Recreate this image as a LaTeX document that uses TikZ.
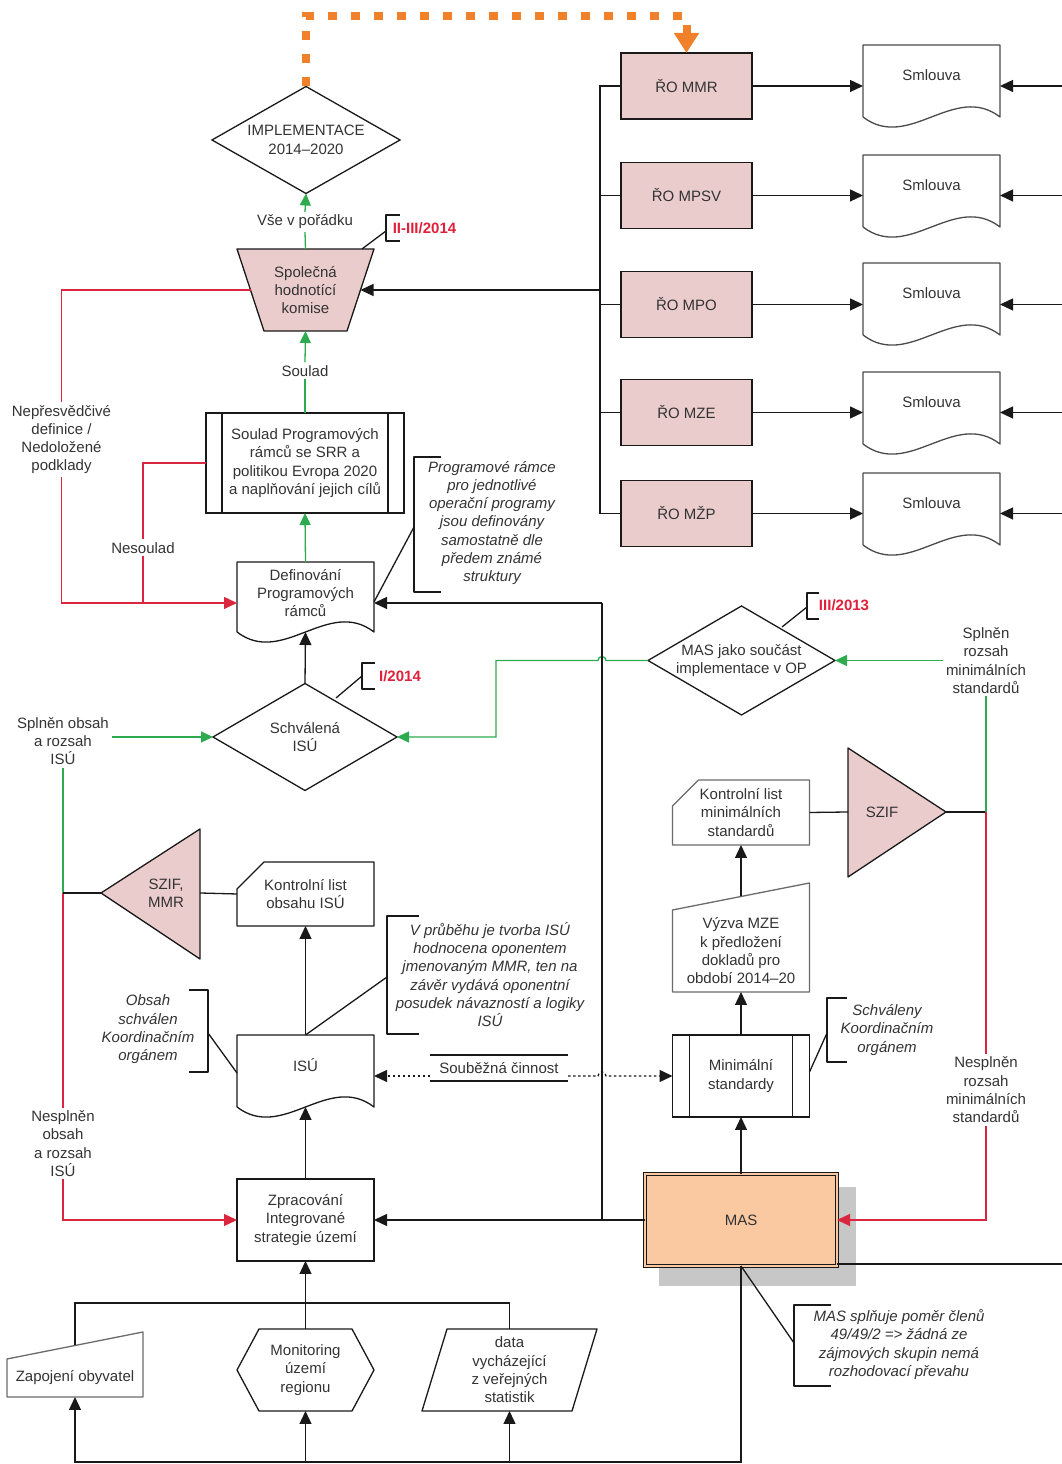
\documentclass[tikz,border=0pt]{standalone}
\usepackage{fontspec}
\setmainfont{Liberation Sans}
\usetikzlibrary{arrows.meta,shapes.geometric}

\newcommand{\docout}[3][]{\draw[shp,#1] ([yshift=-#3]#2.south west) -- (#2.north west) -- (#2.north east) -- ([yshift=-#3]#2.south east) .. controls ([xshift=-45.7pt,yshift=35pt-#3]#2.south east) and ([xshift=45.7pt,yshift=-35pt-#3]#2.south west) .. ([yshift=-#3]#2.south west);}
\newcommand{\cardout}[3][]{\draw[shp,#1] ([xshift=#3]#2.north west) -- (#2.north east) -- (#2.south east) -- (#2.south west) -- ([yshift=-#3]#2.north west) -- cycle;}
\newcommand{\manout}[3][]{\draw[shp,#1] (#2.south west) -- (#2.north west) -- ([yshift=#3]#2.north east) -- (#2.south east) -- cycle;}
\newcommand{\hexout}[2]{\draw[shp] (#1.west) -- ([xshift=#2]#1.north west) -- ([xshift=-#2]#1.north east) -- (#1.east) -- ([xshift=-#2]#1.south east) -- ([xshift=#2]#1.south west) -- cycle;}
\newcommand{\parout}[2]{\draw[shp] ([xshift=#2]#1.north west) -- (#1.north east) -- ([xshift=-#2]#1.south east) -- (#1.south west) -- cycle;}
\newcommand{\procout}[2]{\draw[shp] ([xshift=#2]#1.north west) -- ([xshift=#2]#1.south west) ([xshift=-#2]#1.north east) -- ([xshift=-#2]#1.south east);}

\begin{document}
\begin{tikzpicture}[x=1pt,y=1pt,
  txt/.style={font=\fontsize{15}{18.3}\selectfont,align=center,inner sep=0pt,outer sep=0pt,text=textColor},
  lbl/.style={txt,inner sep=3pt},
  note/.style={txt,font=\fontsize{15}{18.3}\selectfont\itshape},
  datum/.style={txt,font=\fontsize{15}{18.3}\selectfont\bfseries,text=dateColor},
  holder/.style={txt,minimum width=137pt},
  proc/.style={txt,draw=lineColor,line width=1.3pt},
  choice/.style={txt,shape=diamond,draw=lineColor,line width=1.3pt},
  rozbox/.style={txt,draw=lineColor,line width=1.3pt,fill=roFill,minimum width=131pt,minimum height=66pt},
  shp/.style={draw=lineColor,line width=1.3pt,line join=round},
  con/.style={draw=lineColor,line width=1.3pt},
  arr/.style={con,-{Triangle[length=13pt,width=12pt]}},
  okline/.style={draw=okColor,line width=1.3pt},
  okarr/.style={okline,-{Triangle[length=12pt,width=11pt]}},
  noline/.style={draw=noColor,line width=1.3pt},
  noarr/.style={noline,-{Triangle[length=13pt,width=12pt]}},
  dotline/.style={con,dash pattern=on 2.5pt off 2.5pt},
  planarr/.style={draw=planColor,line width=8pt,dash pattern=on 9pt off 14pt,-{Triangle[length=20pt,width=24pt]}}]
\definecolor[named]{textColor}{rgb}{0.20,0.20,0.20}
\definecolor[named]{lineColor}{rgb}{0.10,0.10,0.10}
\definecolor[named]{greyLine}{rgb}{0.42,0.42,0.42}
\definecolor[named]{roFill}{rgb}{0.92,0.80,0.80}
\definecolor[named]{masFill}{rgb}{0.98,0.79,0.63}
\definecolor[named]{shadowColor}{rgb}{0.78,0.78,0.78}
\definecolor[named]{okColor}{rgb}{0.18,0.67,0.31}
\definecolor[named]{noColor}{rgb}{0.86,0.15,0.25}
\definecolor[named]{dateColor}{rgb}{0.88,0.13,0.23}
\definecolor[named]{planColor}{rgb}{0.94,0.50,0.16}
\path[use as bounding box,fill=white] (0,0) rectangle (1062,1464);

\path[fill=shadowColor] (659,178) rectangle (856,277);
\draw[shp,fill=roFill] (237,1215) -- (374,1215) -- (347,1133) -- (264,1133) -- cycle;
\draw[shp,fill=roFill] (101,571) -- (200,635) -- (200,505) -- cycle;
\draw[shp,fill=roFill] (848,716) -- (946,652) -- (848,587) -- cycle;

\coordinate (robus) at (600,0);
\coordinate (bus2) at (602,0);
\coordinate (rim) at (1062,0);
\coordinate (rjoin) at (61.5,861);
\coordinate (ptop) at (0,1448);
\coordinate (bot) at (0,2);
\coordinate (inbus) at (0,161);
\coordinate (szif1tip) at (101,571);
\coordinate (szif1base) at (200,571);
\coordinate (szif2base) at (848,652);
\coordinate (szif2tip) at (946,652);

\node[choice,minimum width=188pt,minimum height=107pt,aspect=1.757] (impl) at (306,1324) {IMPLEMENTACE\\2014–2020};
\node[txt,minimum width=110pt,minimum height=82pt] (komise) at (305.5,1174) {Společná\\hodnotící\\komise};
\node[lbl] (vse) at (305,1242) {Vše v pořádku};
\node[datum] (d2014b) at (424.5,1236) {II-III/2014};
\node[lbl] (soulbl) at (305,1093) {Soulad};
\node[proc,minimum width=198pt,minimum height=100pt] (soulad) at (305,1001) {Soulad Programových\\rámců se SRR a\\politikou Evropa 2020\\a naplňování jejich cílů};
\node[lbl] (nep) at (61.5,1024.5) {Nepřesvědčivé\\definice /\\Nedoložené\\podklady};
\node[lbl] (nes) at (143,916) {Nesoulad};
\node[holder,minimum height=62pt] (defin) at (305.5,871) {Definování\\Programových\\rámců};
\node[note] (pra) at (492,941) {Programové rámce\\pro jednotlivé\\operační programy\\jsou definovány\\samostatně dle\\předem známé\\struktury};
\node[choice,minimum width=184pt,minimum height=107pt,aspect=1.72] (schv) at (305,727) {Schválená\\ISÚ};
\node[datum] (d2014a) at (400,788) {I/2014};
\node[lbl] (splisu) at (63,723) {Splněn obsah\\a rozsah\\ISÚ};
\node[txt] (szif1) at (166,571) {SZIF,\\MMR};
\node[holder,minimum height=64pt] (klist1) at (305.5,570) {Kontrolní list\\obsahu ISÚ};
\node[note] (prub) at (490,489.5) {V průběhu je tvorba ISÚ\\hodnocena oponentem\\jmenovaným MMR, ten na\\závěr vydává oponentní\\posudek návazností a logiky\\ISÚ};
\node[note] (obs) at (148,434.5) {Obsah\\schválen\\Koordinačním\\orgánem};
\node[holder,minimum height=60pt] (isu) at (305.5,399) {ISÚ};
\node[txt,minimum width=138pt,minimum height=26pt] (soub) at (499,396) {Souběžná činnost};
\node[lbl] (nesisu) at (63,320.5) {Nesplněn\\obsah\\a rozsah\\ISÚ};
\node[proc,minimum width=137pt,minimum height=82pt] (zprac) at (305.5,244) {Zpracování\\Integrované\\strategie území};

\node[rozbox] (ro1) at (686.5,1378) {ŘO MMR};
\node[rozbox] (ro2) at (686.5,1268.5) {ŘO MPSV};
\node[rozbox] (ro3) at (686.5,1159.5) {ŘO MPO};
\node[rozbox] (ro4) at (686.5,1051.5) {ŘO MZE};
\node[rozbox] (ro5) at (686.5,950.5) {ŘO MŽP};
\node[holder,minimum height=60pt] (sml1) at (931.5,1389) {Smlouva};
\node[holder,minimum height=60pt] (sml2) at (931.5,1279) {Smlouva};
\node[holder,minimum height=60pt] (sml3) at (931.5,1171) {Smlouva};
\node[holder,minimum height=60pt] (sml4) at (931.5,1062) {Smlouva};
\node[holder,minimum height=60pt] (sml5) at (931.5,961) {Smlouva};

\node[choice,minimum width=187pt,minimum height=109pt,aspect=1.716] (masop) at (741.5,803.5) {MAS jako součást\\implementace v OP};
\node[datum] (d2013) at (844,859) {III/2013};
\node[lbl] (splrs) at (986,803.5) {Splněn\\rozsah\\minimálních\\standardů};
\node[holder,minimum height=65pt] (klist2) at (741,651.5) {Kontrolní list\\minimálních\\standardů};
\node[txt] (szif2) at (882,652) {SZIF};
\node[holder,minimum height=82pt] (vyz) at (741,513) {Výzva MZE\\k předložení\\dokladů pro\\období 2014–20};
\node[proc,minimum width=137pt,minimum height=82pt] (minstd) at (741,388) {Minimální\\standardy};
\node[note] (schvk) at (887,434) {Schváleny\\Koordinačním\\orgánem};
\node[lbl] (nesrs) at (986,374) {Nesplněn\\rozsah\\minimálních\\standardů};
\node[txt,draw=lineColor,line width=1.2pt,double=masFill,double distance=2pt,fill=masFill,minimum width=192pt,minimum height=92pt] (mas) at (741,244) {MAS};
\node[note] (masann) at (899,119.5) {MAS splňuje poměr členů\\49/49/2 => žádná ze\\zájmových skupin nemá\\rozhodovací převahu};

\node[txt,minimum width=136pt,minimum height=38pt] (zap) at (75,86) {Zapojení obyvatel};
\node[holder,minimum height=82pt] (mon) at (305.5,94) {Monitoring\\území\\regionu};
\node[txt,minimum width=175pt,minimum height=82pt] (dat) at (509.5,94) {data\\vycházející\\z veřejných\\statistik};

\procout{soulad}{16pt}
\procout{minstd}{17pt}
\docout{defin}{8pt}
\docout{isu}{12pt}
\docout[draw=greyLine!60!lineColor]{sml1}{12pt}
\docout[draw=greyLine!60!lineColor]{sml2}{12pt}
\docout[draw=greyLine!60!lineColor]{sml3}{12pt}
\docout[draw=greyLine!60!lineColor]{sml4}{12pt}
\docout[draw=greyLine!60!lineColor]{sml5}{12pt}
\cardout{klist1}{27pt}
\cardout[draw=greyLine]{klist2}{26pt}
\manout[draw=greyLine]{vyz}{27pt}
\manout[draw=greyLine]{zap}{27pt}
\hexout{mon}{22pt}
\parout{dat}{25pt}

\draw[shp] (400,1249) -- (386,1249) -- (386,1223) -- (400,1223);
\draw[con] (386,1233) -- (362,1215);
\draw[shp] (375,801) -- (362,801) -- (362,775) -- (375,775);
\draw[con] (362,788) -- (336,766);
\draw[shp] (819,871) -- (807,871) -- (807,845) -- (819,845);
\draw[con] (807,857) -- (782,837);
\draw[shp] (441,1007) -- (414,1007) -- (414,872) -- (441,872);
\draw[con] (414,937) -- ([yshift=-9pt]defin.east);
\draw[shp] (419,548) -- (387,548) -- (387,430) -- (419,430);
\draw[con] (387,487) -- (isu.north);
\draw[shp] (189,474) -- (208,474) -- (208,392) -- (189,392);
\draw[con] (208,431) -- ([yshift=-8pt]isu.west);
\draw[shp] (847,466) -- (827,466) -- (827,402) -- (847,402);
\draw[con] (827,431) -- ([yshift=4pt]minstd.east);
\draw[shp] (831,159) -- (794,159) -- (794,78) -- (831,78);
\draw[con] (794,121) -- (mas.south);
\draw[con] (soub.north west) -- (soub.north east);
\draw[con] (soub.south west) -- (soub.south east);

\draw[planarr] (impl.north) -- (impl.north |- ptop) -- (ro1.north |- ptop) -- (ro1.north);

\draw[okline] (komise.north) -- (vse.south);
\draw[okarr] (vse.north) -- (impl.south);
\draw[okline] (soulad.north) -- (soulbl.south);
\draw[okarr] (soulbl.north) -- (komise.south);
\draw[okarr] (defin.north) -- (soulad.south);
\draw[noline] (komise.west) -| (nep.north);
\draw[noarr] (nep.south) |- (rjoin -| defin.west);
\draw[noline] (soulad.west) -| (nes.north);
\draw[noline] (nes.south) -- (nes.south |- rjoin);

\draw[con] (ro1.west) -- (ro1.west -| robus) -- (ro5.west -| robus) -- (ro5.west);
\draw[con] (ro2.west) -- (ro2.west -| robus);
\draw[con] (ro3.west) -- (ro3.west -| robus);
\draw[con] (ro4.west) -- (ro4.west -| robus);
\draw[arr] (komise.east -| robus) -- (komise.east);
\draw[arr] (ro1.east) -- (ro1.east -| sml1.west);
\draw[arr] (ro2.east) -- (ro2.east -| sml2.west);
\draw[arr] (ro3.east) -- (ro3.east -| sml3.west);
\draw[arr] (ro4.east) -- (ro4.east -| sml4.west);
\draw[arr] (ro5.east) -- (ro5.east -| sml5.west);
\draw[arr] (ro1.east -| rim) -- (ro1.east -| sml1.east);
\draw[arr] (ro2.east -| rim) -- (ro2.east -| sml2.east);
\draw[arr] (ro3.east -| rim) -- (ro3.east -| sml3.east);
\draw[arr] (ro4.east -| rim) -- (ro4.east -| sml4.east);
\draw[arr] (ro5.east -| rim) -- (ro5.east -| sml5.east);

\draw[arr] (schv.north) -- ([yshift=-8pt]defin.south);
\draw[okarr] (splisu.east |- schv) -- (schv.west);
\draw[okarr] (masop.west) -- (606,803.5) arc[start angle=0,end angle=180,radius=4pt] -- (496,803.5) |- (schv.east);
\draw[okline] (splisu.south) -- (splisu.south |- szif1tip);
\draw[noline] (splisu.south |- szif1tip) -- (nesisu.north);
\draw[con] (splisu.south |- szif1tip) -- (szif1tip);
\draw[con] (szif1base) -- (klist1.west);
\draw[noarr] (nesisu.south) |- (zprac.west);
\draw[arr] (isu.north) -- (klist1.south);
\draw[arr] (zprac.north) -- ([yshift=-12pt]isu.south);

\draw[dotline,-{Triangle[length=13pt,width=12pt]}] (soub.west |- minstd.west) -- (isu.east |- minstd.west);
\draw[dotline,-{Triangle[length=13pt,width=12pt]}] (soub.east |- minstd.west) -- (598,388) arc[start angle=180,end angle=0,radius=4pt] -- (minstd.west);

\draw[okarr] (splrs.west |- masop) -- (masop.east);
\draw[con] (klist2.east) -- (szif2base);
\draw[con] (szif2tip) -- (splrs.south |- szif2tip);
\draw[okline] (splrs.south |- szif2tip) -- (splrs.south);
\draw[noline] (splrs.south |- szif2tip) -- (nesrs.north);
\draw[noarr] (nesrs.south) |- (mas.east);
\draw[arr] ([yshift=13.5pt]vyz.north) -- (klist2.south);
\draw[arr] (minstd.north) -- (vyz.south);
\draw[arr] (mas.north) -- (minstd.south);
\draw[arr] (mas.west) -- (zprac.east);
\draw[con] (mas.west -| bus2) -- (bus2 |- rjoin);
\draw[arr] (bus2 |- rjoin) -- (rjoin -| defin.east);
\coordinate (masout) at ([yshift=2pt]mas.south east);
\draw[con] (masout) -- (masout -| rim);

\draw[arr] (mas.south) |- (zap.south |- bot) -- (zap.south);
\draw[arr] (mon.south |- bot) -- (mon.south);
\draw[arr] (dat.south |- bot) -- (dat.south);
\draw[con] ([yshift=13.5pt]zap.north) -- (zap.north |- inbus) -- (dat.north |- inbus) -- (dat.north);
\draw[con] (mon.north) -- (mon.north |- inbus);
\draw[arr] (mon.north |- inbus) -- (zprac.south);
\end{tikzpicture}
\end{document}
